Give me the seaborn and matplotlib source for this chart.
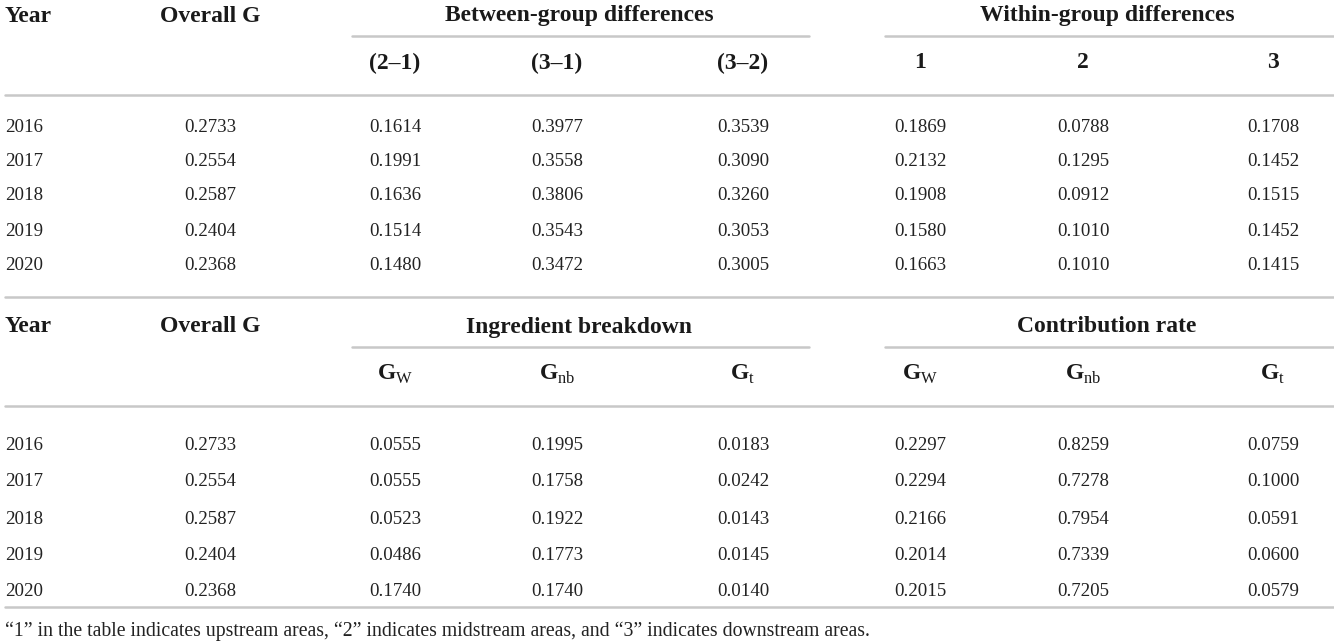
import pandas as pd
import seaborn as sns
import matplotlib.pyplot as plt

years = [2016, 2017, 2018, 2019, 2020]
overall_g = [0.2733, 0.2554, 0.2587, 0.2404, 0.2368]

between_21 = [0.1614, 0.1991, 0.1636, 0.1514, 0.1480]
between_31 = [0.3977, 0.3558, 0.3806, 0.3543, 0.3472]
between_32 = [0.3539, 0.3090, 0.3260, 0.3053, 0.3005]
within_1 = [0.1869, 0.2132, 0.1908, 0.1580, 0.1663]
within_2 = [0.0788, 0.1295, 0.0912, 0.1010, 0.1010]
within_3 = [0.1708, 0.1452, 0.1515, 0.1452, 0.1415]

ingr_gw = [0.0555, 0.0555, 0.0523, 0.0486, 0.1740]
ingr_gnb = [0.1995, 0.1758, 0.1922, 0.1773, 0.1740]
ingr_gt = [0.0183, 0.0242, 0.0143, 0.0145, 0.0140]
contrib_gw = [0.2297, 0.2294, 0.2166, 0.2014, 0.2015]
contrib_gnb = [0.8259, 0.7278, 0.7954, 0.7339, 0.7205]
contrib_gt = [0.0759, 0.1000, 0.0591, 0.0600, 0.0579]

groups_top = ["Between-group differences", "Within-group differences"]
sub_top = ["(2\u20131)", "(3\u20131)", "(3\u20132)", "1", "2", "3"]
groups_bottom = ["Ingredient breakdown", "Contribution rate"]
sub_bottom = [r"$\mathbf{G}_{\mathrm{W}}$", r"$\mathbf{G}_{\mathrm{nb}}$", r"$\mathbf{G}_{\mathrm{t}}$"] * 2
footnote = ("\u201c1\u201d in the table indicates upstream areas, \u201c2\u201d indicates midstream areas, "
            "and \u201c3\u201d indicates downstream areas.")

top_df = pd.DataFrame({'Year': years, 'Overall G': overall_g, 'b21': between_21, 'b31': between_31,
                       'b32': between_32, 'w1': within_1, 'w2': within_2, 'w3': within_3})
bottom_df = pd.DataFrame({'Year': years, 'Overall G': overall_g, 'igw': ingr_gw, 'ignb': ingr_gnb,
                          'igt': ingr_gt, 'cgw': contrib_gw, 'cgnb': contrib_gnb, 'cgt': contrib_gt})

sns.set_theme(style="white")
plt.rcParams['font.family'] = ['Liberation Serif', 'DejaVu Serif']
plt.rcParams['mathtext.fontset'] = 'custom'
plt.rcParams['mathtext.rm'] = 'Liberation Serif'
plt.rcParams['mathtext.bf'] = 'Liberation Serif:bold'

fig = plt.figure(figsize=(13.34, 6.43), dpi=100)
ax = fig.add_axes([0, 0, 1, 1])
ax.set_xlim(0, 1334)
ax.set_ylim(643, 0)
ax.axis('off')

col_x = [210, 395, 557, 743, 920, 1083, 1273]
line_color = '#c8c8c8'
head_size = 17
cell_size = 13.6


def draw_table(df, groups, subs, top, row_ys):
    ax.text(5, top + 16, 'Year', ha='left', va='center', fontsize=head_size, fontweight='bold', color='#1a1a1a')
    ax.text(col_x[0], top + 16, 'Overall G', ha='center', va='center', fontsize=head_size,
            fontweight='bold', color='#1a1a1a')
    ax.text(579, top + 16, groups[0], ha='center', va='center', fontsize=head_size, fontweight='bold', color='#1a1a1a')
    ax.text(1107, top + 16, groups[1], ha='center', va='center', fontsize=head_size, fontweight='bold', color='#1a1a1a')
    ax.plot([352, 809], [top + 36, top + 36], color=line_color, lw=1.8)
    ax.plot([885, 1334], [top + 36, top + 36], color=line_color, lw=1.8)
    for x, s in zip(col_x[1:], subs):
        ax.text(x, top + 63, s, ha='center', va='center', fontsize=head_size, fontweight='bold', color='#1a1a1a')
    ax.plot([5, 1334], [top + 95, top + 95], color=line_color, lw=1.8)
    cols = df.columns[1:]
    for i, y in enumerate(row_ys):
        ax.text(5, y, str(df['Year'].iloc[i]), ha='left', va='center', fontsize=cell_size, color='#222222')
        for x, c in zip(col_x, cols):
            ax.text(x, y, f"{df[c].iloc[i]:.4f}", ha='center', va='center', fontsize=cell_size, color='#222222')


draw_table(top_df, groups_top, sub_top, 0, [128, 161, 196, 231, 265])
ax.plot([5, 1334], [297, 297], color=line_color, lw=1.8)
draw_table(bottom_df, groups_bottom, sub_bottom, 311, [445, 482, 519, 555, 591])
ax.plot([5, 1334], [607, 607], color=line_color, lw=1.8)
ax.text(5, 631, footnote, ha='left', va='center', fontsize=14.2, color='#222222')

plt.savefig('out.png', dpi=100)
